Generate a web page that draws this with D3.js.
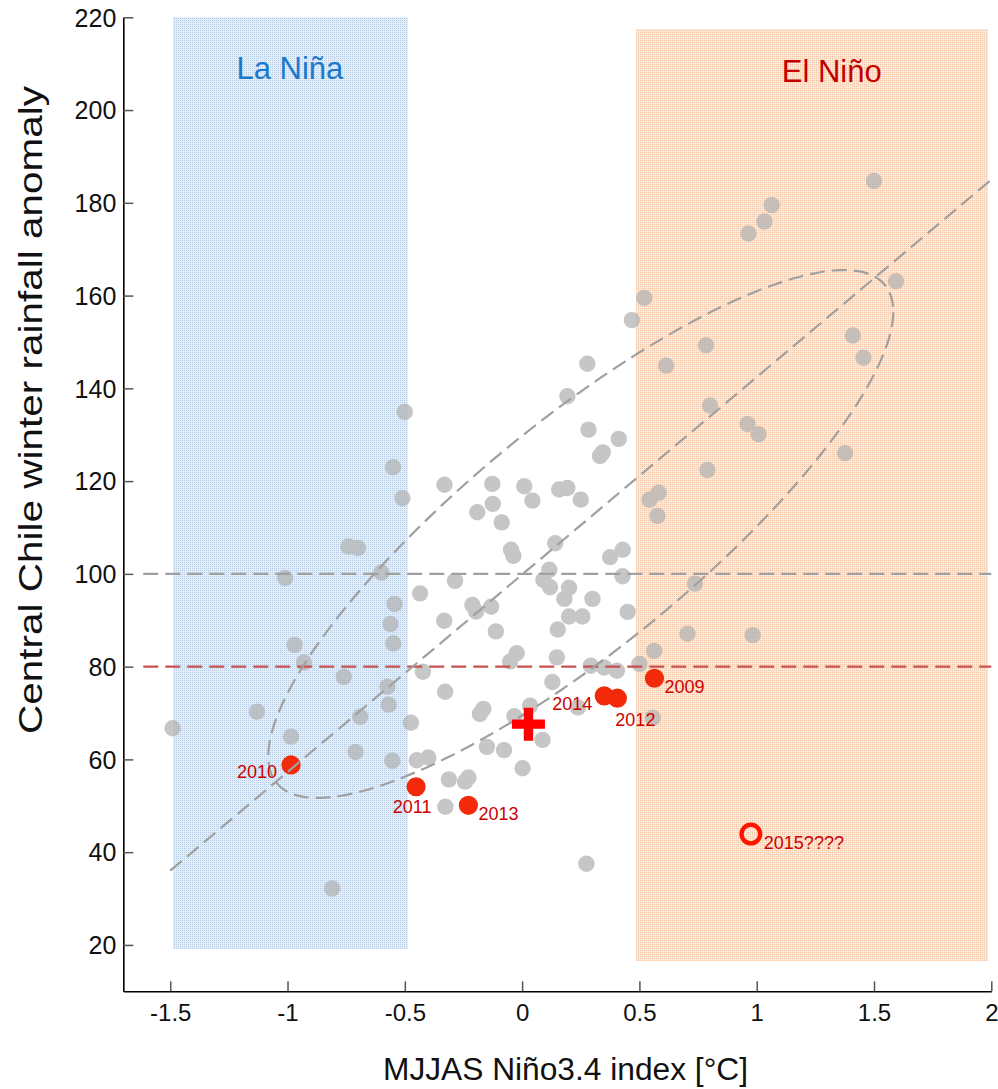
<!DOCTYPE html>
<html><head><meta charset="utf-8">
<script src="https://cdnjs.cloudflare.com/ajax/libs/d3/7.8.5/d3.min.js"></script>
<style>
html,body{margin:0;padding:0;background:#fff;}
svg{display:block;}
text{font-family:"Liberation Sans",Arial,Helvetica,sans-serif;}
</style>
</head><body>
<svg id="chart" width="998" height="1089"></svg>
<script>
// ---------- data ----------
const xTicks = [-1.5, -1, -0.5, 0, 0.5, 1, 1.5, 2];
const xTickLabels = ["-1.5", "-1", "-0.5", "0", "0.5", "1", "1.5", "2"];
const yTicks = [20, 40, 60, 80, 100, 120, 140, 160, 180, 200, 220];
const yTickLabels = ["20", "40", "60", "80", "100", "120", "140", "160", "180", "200", "220"];

// historical years (grey dots): Niño3.4 index and rainfall anomaly
const histX = [-1.49,-1.13,-0.985,-1.01,-0.97,-0.93,-0.76,-0.74,-0.70,-0.69,-0.71,-0.81,-0.60,-0.50,-0.55,-0.51,
  -0.544,-0.561,-0.549,-0.574,-0.569,-0.553,-0.435,-0.423,-0.474,-0.449,-0.400,-0.331,-0.127,0.009,0.158,0.193,
  0.044,0.25,-0.125,-0.191,-0.087,0.141,-0.047,-0.037,0.429,0.375,0.116,0.091,0.119,0.428,-0.286,0.200,0.180,
  0.300,-0.212,-0.196,-0.132,-0.332,0.200,0.257,0.450,0.152,-0.112,-0.023,-0.051,0.148,0.293,0.350,0.404,0.50,
  0.129,-0.328,0.034,-0.165,-0.18,-0.033,0.238,0.087,-0.150,-0.077,0.002,-0.312,-0.229,-0.243,-0.327,0.274,
  0.278,0.193,0.283,0.412,0.344,0.332,0.557,1.50,1.064,1.033,0.965,1.594,0.521,0.468,0.784,0.614,1.410,1.455,
  0.801,0.961,1.008,1.377,0.790,0.582,0.543,0.577,0.737,0.705,0.983,0.563];
const histY = [66.7,70.3,64.9,99.1,84.7,80.9,77.8,105.9,105.6,69.2,61.6,32.2,100.3,134.9,123.0,116.3,
  93.5,89.2,85.0,75.7,71.8,59.7,95.8,78.9,67.9,59.8,60.4,119.2,119.4,118.9,118.2,118.5,
  115.8,116.0,115.1,113.3,111.1,106.6,105.2,103.9,105.2,103.6,100.9,98.7,97.1,99.5,98.5,97.0,94.6,
  94.6,93.3,91.9,92.9,89.9,90.8,90.8,91.8,88.0,87.6,82.9,81.1,82.0,80.2,79.8,79.1,80.6,
  76.7,74.6,71.6,70.9,69.8,69.3,71.2,64.2,62.7,62.0,58.1,55.7,56.1,55.2,49.8,37.5,
  145.3,138.3,131.1,129.1,126.2,125.4,69.0,184.7,179.5,176.0,173.4,163.1,159.5,154.7,149.3,144.9,151.4,146.6,
  136.3,132.3,130.1,126.0,122.4,117.5,116.0,112.5,97.9,87.1,86.8,83.4];

// recent years (red dots)
const recentYears = ["2009", "2010", "2011", "2012", "2013", "2014"];
const recentX = [0.564, -0.985, -0.452, 0.406, -0.229, 0.350];
const recentY = [77.5, 58.8, 54.1, 73.2, 50.1, 73.7];

// 2015 forecast (open circle) and mean of recent years (cross)
const forecastYear = ["2015????"];
const forecastX = [0.975];
const forecastY = [43.9];
const meanX = [0.027];
const meanY = [67.6];

// reference levels
const refLevels = [100, 80];
// ENSO phase boxes [x0, x1, y0, y1]
const laNinaBox = [-1.49, -0.487, 19, 220];
const elNinoBox = [0.486, 1.987, 16.5, 217.5];
// linear fit end points
const fitX = [-1.5, 2];
const fitY = [36, 185];
// correlation ellipse: centre, standard deviations, correlation
const ellCentre = [0.25, 108.6];
const ellSd = [1.332, 56.9];
const ellR = [0.842];

// ---------- layout ----------
const svg = d3.select("#chart");
const x = d3.scaleLinear().domain([-1.7, 2]).range([123.3, 991.3]);
const y = d3.scaleLinear().domain([10, 220]).range([991.3, 17.3]);

const defs = svg.append("defs");
function dotPattern(id, base, dot) {
  const p = defs.append("pattern").attr("id", id).attr("width", 2).attr("height", 2)
    .attr("patternUnits", "userSpaceOnUse");
  p.append("rect").attr("width", 2).attr("height", 2).attr("fill", base);
  p.append("rect").attr("width", 1).attr("height", 1).attr("fill", dot);
}
dotPattern("pBlue", "#e3edf7", "#b6cee8");
dotPattern("pOrange", "#fce8d9", "#f3c7a6");

function box(b, fill) {
  svg.append("rect")
    .attr("x", Math.round(x(b[0]))).attr("y", Math.round(y(b[3])))
    .attr("width", Math.round(x(b[1]) - x(b[0]))).attr("height", Math.round(y(b[2]) - y(b[3])))
    .attr("fill", fill);
}
box(laNinaBox, "url(#pBlue)");
box(elNinoBox, "url(#pOrange)");

svg.append("text").attr("x", x(-0.99)).attr("y", y(206.7)).attr("text-anchor", "middle")
  .attr("font-size", 31).attr("fill", "#1c78cc").text("La Niña");
svg.append("text").attr("x", x(1.32)).attr("y", y(206.1)).attr("text-anchor", "middle")
  .attr("font-size", 31).attr("fill", "#c40000").text("El Niño");

// grey dots (group opacity so overlaps don't darken)
const hist = d3.range(histX.length).map(i => ({x: histX[i], y: histY[i]}));
svg.append("g").attr("opacity", 0.75)
  .selectAll("circle").data(hist).join("circle")
  .attr("cx", d => x(d.x)).attr("cy", d => y(d.y)).attr("r", 8.2)
  .attr("fill", "#b4b4b4");

// red dots
const recent = recentYears.map((yr, i) => ({yr, x: recentX[i], y: recentY[i]}));
svg.append("g").selectAll("circle").data(recent).join("circle")
  .attr("cx", d => x(d.x)).attr("cy", d => y(d.y)).attr("r", 9.6)
  .attr("fill", "#f22a0a");

// dashed lines
const dashGrey = "#a0a0a0";
const dash = "15,7";
svg.append("line").attr("x1", x(-1.615)).attr("x2", x(2)).attr("y1", y(refLevels[0])).attr("y2", y(refLevels[0]))
  .attr("stroke", dashGrey).attr("stroke-width", 2.2).attr("stroke-dasharray", dash);
svg.append("line").attr("x1", x(-1.615)).attr("x2", x(2)).attr("y1", y(refLevels[1])).attr("y2", y(refLevels[1]))
  .attr("stroke", "#c85050").attr("stroke-width", 2.2).attr("stroke-dasharray", dash);
svg.append("line").attr("x1", x(fitX[0])).attr("x2", x(fitX[1])).attr("y1", y(fitY[0])).attr("y2", y(fitY[1]))
  .attr("stroke", dashGrey).attr("stroke-width", 2.2).attr("stroke-dasharray", dash);

// ellipse
const a = ellSd[1] * ellR[0], b = ellSd[1] * Math.sqrt(1 - ellR[0] * ellR[0]);
const ellPts = d3.range(0, 360, 2).map(deg => {
  const t = deg * Math.PI / 180;
  return [x(ellCentre[0] + ellSd[0] * Math.cos(t)), y(ellCentre[1] + a * Math.cos(t) + b * Math.sin(t))];
});
svg.append("path").attr("d", d3.line().curve(d3.curveCardinalClosed)(ellPts))
  .attr("fill", "none").attr("stroke", dashGrey).attr("stroke-width", 2.2).attr("stroke-dasharray", dash);

// labels for red dots
const labOff = {"2009": [10, 15, "start"], "2010": [-14, 13, "end"], "2011": [-4, 26, "middle"],
  "2012": [-2, 28, "start"], "2013": [10, 15, "start"], "2014": [-12, 14, "end"]};
svg.append("g").selectAll("text").data(recent).join("text")
  .attr("x", d => x(d.x) + labOff[d.yr][0]).attr("y", d => y(d.y) + labOff[d.yr][1])
  .attr("text-anchor", d => labOff[d.yr][2])
  .attr("font-size", 18).attr("fill", "#cc0000").text(d => d.yr);

// 2015 open circle
svg.append("circle").attr("cx", x(forecastX[0])).attr("cy", y(forecastY[0])).attr("r", 9.3)
  .attr("fill", "none").attr("stroke", "#ff1400").attr("stroke-width", 4.4);
svg.append("text").attr("x", x(forecastX[0]) + 13).attr("y", y(forecastY[0]) + 15)
  .attr("font-size", 18).attr("fill", "#cc0000").text(forecastYear[0]);

// mean cross
const cx0 = x(meanX[0]), cy0 = y(meanY[0]), L = 16.5, T = 4.7;
svg.append("path")
  .attr("d", `M${cx0-L},${cy0-T}H${cx0-T}V${cy0-L}H${cx0+T}V${cy0-T}H${cx0+L}V${cy0+T}H${cx0+T}V${cy0+L}H${cx0-T}V${cy0+T}H${cx0-L}Z`)
  .attr("fill", "#ff0000");

// axes
const gx = svg.append("g").attr("transform", `translate(0,${y(10)})`)
  .call(d3.axisBottom(x).tickValues(xTicks).tickSize(-10).tickSizeOuter(0)
    .tickFormat((d, i) => xTickLabels[i]));
gx.attr("font-family", null);
gx.selectAll(".tick text").attr("y", 30).attr("dy", 0).attr("font-size", 24).attr("fill", "#111");
gx.selectAll(".tick line").attr("stroke", "#555").attr("stroke-width", 1.5);
gx.select(".domain").attr("stroke", "#000").attr("stroke-width", 1.6);

const gy = svg.append("g").attr("transform", `translate(${x(-1.7)},0)`)
  .call(d3.axisLeft(y).tickValues(yTicks).tickSize(-10).tickSizeOuter(0)
    .tickFormat((d, i) => yTickLabels[i]));
gy.attr("font-family", null);
gy.selectAll(".tick text").attr("x", -7).attr("dy", "0.35em").attr("font-size", 25).attr("fill", "#111");
gy.selectAll(".tick line").attr("stroke", "#555").attr("stroke-width", 1.5);
gy.select(".domain").attr("stroke", "#000").attr("stroke-width", 1.6);

// axis titles
svg.append("text").attr("x", 565.5).attr("y", 1080).attr("text-anchor", "middle")
  .attr("font-size", 31).attr("fill", "#111")
  .attr("textLength", 365).attr("lengthAdjust", "spacingAndGlyphs")
  .text("MJJAS Niño3.4 index [°C]");
svg.append("text").attr("transform", "translate(42,410) rotate(-90)").attr("text-anchor", "middle")
  .attr("font-size", 33).attr("fill", "#111")
  .attr("textLength", 648).attr("lengthAdjust", "spacingAndGlyphs")
  .text("Central Chile winter rainfall anomaly");
</script>
</body></html>
